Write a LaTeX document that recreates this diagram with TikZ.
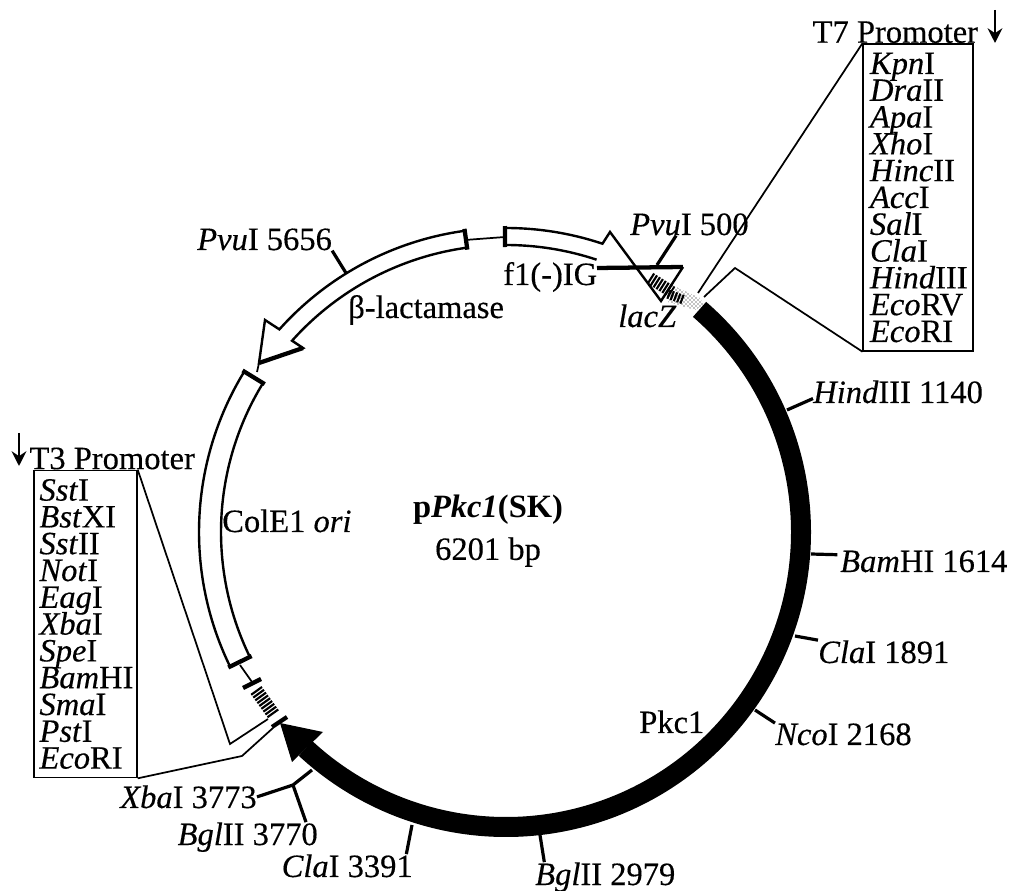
\documentclass[tikz,border=0pt]{standalone}
\usepackage{fontspec}
\setmainfont{Liberation Serif}[UprightFeatures={FakeBold=0.35}, ItalicFeatures={FakeBold=0.35}]
\usetikzlibrary{arrows.meta}
\usetikzlibrary{calc}
\usetikzlibrary{patterns}
\usetikzlibrary{positioning}
\newcommand{\mapfont}{\fontsize{24.4}{20.1}\selectfont\lineskiplimit=-30pt}
\tikzset{
  maplabel/.style={inner sep=0pt, font=\mapfont},
  sitebox/.style={draw, line width=1.3pt, align=left, inner ysep=6.4pt, font=\mapfont},
  boxline/.style={line width=1.3pt},
  tickline/.style={line width=2.4pt},
  featline/.style={line width=1.8pt, line join=miter},
  barline/.style={line width=3.2pt},
  promarrow/.style={-{Stealth[length=11pt, width=11pt]}, line width=2pt},
  hatchline/.style={dash pattern=on 1.6pt off 1pt},
}
\begin{document}
\begin{tikzpicture}[x=0.75pt, y=0.75pt, every node/.style={maplabel}]
        \useasboundingbox (0,0) rectangle (1015,890);
        \coordinate (ctr) at (506,358);

        \node (t7box) [sitebox, inner xsep=5pt, text width=72pt] at (918,692.5) {\textit{Kpn}I\\\textit{Dra}II\\\textit{Apa}I\\\textit{Xho}I\\\textit{Hinc}II\\\textit{Acc}I\\\textit{Sal}I\\\textit{Cla}I\\\textit{Hind}III\\\textit{Eco}RV\\\textit{Eco}RI};
        \node (t3box) [sitebox, inner xsep=4pt, text width=69pt] at (85.5,266) {\textit{Sst}I\\\textit{Bst}XI\\\textit{Sst}II\\\textit{Not}I\\\textit{Eag}I\\\textit{Xba}I\\\textit{Spe}I\\\textit{Bam}HI\\\textit{Sma}I\\\textit{Pst}I\\\textit{Eco}RI};
        \node (t7title) [above=0pt of t7box, xshift=-17pt] {T7 Promoter};
        \node (t3title) [above=0pt of t3box, xshift=20pt] {T3 Promoter};
        \coordinate (t7top) at (995,880);
        \coordinate (t7tip) at (995,847);
        \coordinate (t3top) at (19,457);
        \coordinate (t3tip) at (19,424);
        \draw[promarrow] (t7top) -- (t7tip);
        \draw[promarrow] (t3top) -- (t3tip);

        \draw[boxline] (t7box.north west) -- (698,597);
        \draw[boxline] (704,593) -- (735,622) -- (t7box.south west);
        \draw[boxline] (t3box.north east) -- (230,146) -- (268,171);
        \draw[boxline] (t3box.south east) -- (242,134) -- (273,162);

        \draw[line width=15pt] (ctr) ++(49:295) arc[start angle=49, end angle=-132.8, radius=295];
        \fill (280,167) -- (323,158) -- (292,128) -- cycle;

        \draw[featline] (ctr) ++(97.8:304) arc[start angle=97.8, end angle=138.2, radius=304] -- (265,570) -- (259,527) -- (303,542) -- ($(ctr)+(138.2:287)$) arc[start angle=138.2, end angle=97.8, radius=287];
        \draw[barline] (ctr) ++(97.8:306) -- ($(ctr)+(97.8:285)$);
        \draw[barline] (259,527) -- (303,542);
        \draw[boxline] (465,650) -- (505,653);
        \draw[boxline] (259,527) -- (257,518);

        \draw[featline] (ctr) ++(90.2:304) arc[start angle=90.2, end angle=71.5, radius=304] -- (610,658) -- (661,589) -- (683,623);
        \draw[featline] (ctr) ++(90.2:287) arc[start angle=90.2, end angle=71.6, radius=287];
        \draw[barline] (ctr) ++(90.2:306) -- ($(ctr)+(90.2:285)$);
        \draw[barline] (597,622) -- (683,623);
        \draw[hatchline, line width=9pt] (650,612) -- (672,598);
        \draw[hatchline, line width=7pt] (668,596) -- (684,590);
        \fill[pattern=crosshatch dots] (672,605) -- (700,592) -- (704,586) -- (696,580) -- (668,588) -- cycle;

        \draw[featline] (ctr) ++(148.5:307) arc[start angle=148.5, end angle=206, radius=307] -- ($(ctr)+(206:285)$) arc[start angle=206, end angle=148.5, radius=285] -- cycle;
        \draw[barline] (ctr) ++(148.5:309) -- ($(ctr)+(148.5:283)$);
        \draw[barline] (ctr) ++(206:309) -- ($(ctr)+(206:283)$);
        \draw[boxline] (240,225) -- (252,208);
        \draw[barline] (243,202) -- (261,211);
        \draw[hatchline, line width=10pt] (256,200) -- (274,175);

        \draw[barline] (272,163) -- (287,173);

        \node (plasmid) at (488,380) {\textbf{p\textit{Pkc1}(SK)}};
        \node (size) [below=9pt of plasmid] {6201 bp};
        \node (colei) [anchor=base west] at (222,358) {ColE1 \textit{ori}};
        \node (bla) [anchor=base west] at (348,572) {β-lactamase};
        \node (figene) [anchor=base west] at (503,605) {f1(-)IG};
        \node (lacz) [anchor=base west] at (618,563) {\textit{lacZ}};
        \node (pkc) [anchor=base west] at (639,157) {Pkc1};

        \node (pvu5656) [anchor=base west] at (197,640) {\textit{Pvu}I 5656};
        \node (pvu500) [anchor=base west] at (630,655) {\textit{Pvu}I 500};
        \node (hind1140) [anchor=base west] at (813,487) {\textit{Hind}III 1140};
        \node (bam1614) [anchor=base west] at (840,318) {\textit{Bam}HI 1614};
        \node (cla1891) [anchor=base west] at (818,227) {\textit{Cla}I 1891};
        \node (nco2168) [anchor=base west] at (775,145) {\textit{Nco}I 2168};
        \node (bgl2979) [anchor=base west] at (535,5) {\textit{Bgl}II 2979};
        \node (cla3391) [anchor=base east] at (413,13) {\textit{Cla}I 3391};
        \node (xba3773) [anchor=base east] at (257,82) {\textit{Xba}I 3773};
        \node (bgl3770) [anchor=base east] at (318,45) {\textit{Bgl}II 3770};

        \coordinate (k5656) at (346,617);
        \coordinate (k500) at (657,625);
        \coordinate (k1140) at (787,480);
        \coordinate (k1614) at (811,336);
        \coordinate (k1891) at (795,254);
        \coordinate (k2168) at (755,180);
        \coordinate (k2979) at (540,55);
        \coordinate (k3391) at (412,65);
        \coordinate (k3773) at (312,120);
        \coordinate (kfork) at (293,105);
        \draw[tickline] (k5656) -- (pvu5656.south east);
        \draw[tickline] (k500) -- ([xshift=-10pt]pvu500.south);
        \draw[tickline] (k1140) -- ([yshift=-5pt]hind1140.west);
        \draw[tickline] (k1614) -- ([xshift=-2pt, yshift=5pt]bam1614.west);
        \draw[tickline] (k1891) -- (cla1891.north west);
        \draw[tickline] (k2168) -- (nco2168.north west);
        \draw[tickline] (k2979) -- ([xshift=7pt]bgl2979.north west);
        \draw[tickline] (k3391) -- ([xshift=-5pt]cla3391.north east);
        \draw[tickline] (xba3773.east) -- (kfork) -- (k3773);
        \draw[tickline] (kfork) -- ([xshift=-9pt]bgl3770.north east);
      \end{tikzpicture}
\end{document}
